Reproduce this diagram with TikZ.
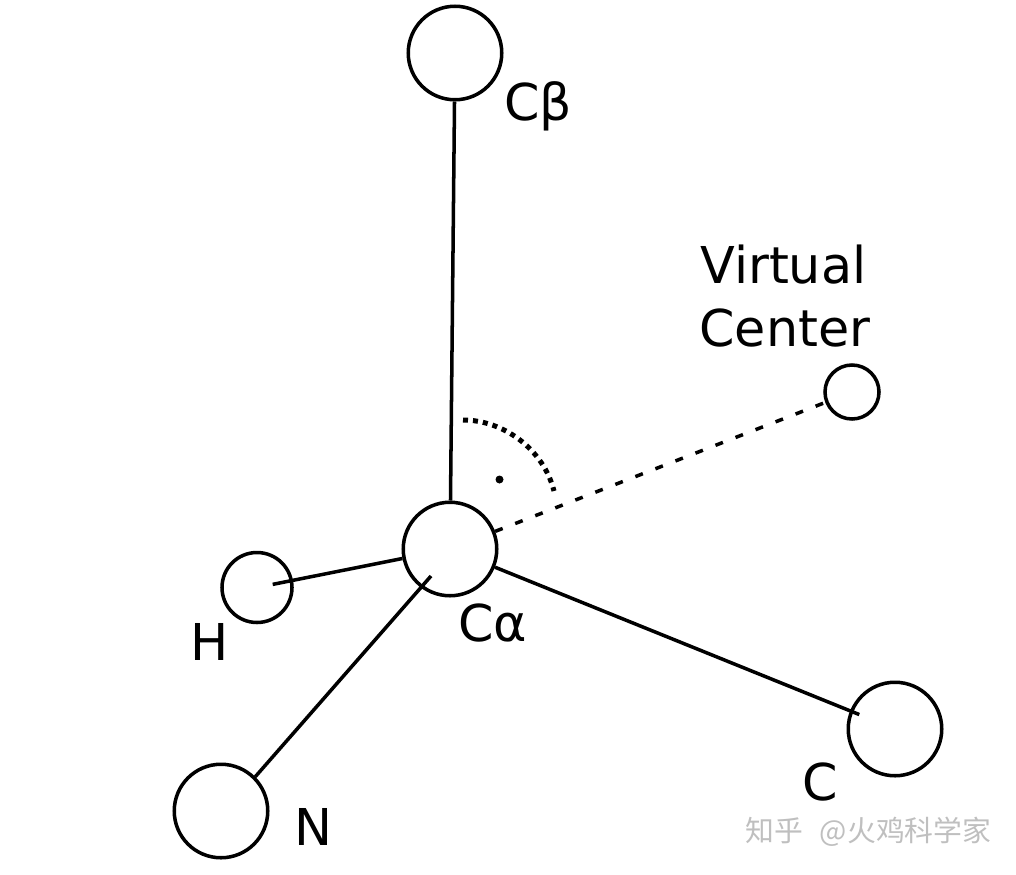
\documentclass[tikz,border=0pt]{standalone}
\usepackage{fontspec}
\setmainfont{DejaVu Sans}
\newfontfamily\cjkwm{Noto Sans CJK SC}
\begin{document}
\begin{tikzpicture}[
    x=0.2mm, y=-0.2mm,
    atom/.style={draw, circle, line width=2pt, inner sep=0pt, minimum size=#1},
    bond/.style={line width=2pt},
    lbl/.style={anchor=base west, inner sep=0pt, font=\fontsize{28.9}{36}\selectfont}
  ]
    \useasboundingbox (0,0) rectangle (1016,874);

    \node[atom=18.7mm]  (cb) at (455,53)  {};
    \node[atom=18.7mm]  (ca) at (450,549) {};
    \node[atom=10.8mm]  (vc) at (852,392) {};
    \node[atom=14mm]    (h)  at (257,587.5) {};
    \node[atom=18.7mm]  (n)  at (221,811) {};
    \node[atom=18.7mm]  (c)  at (895,729) {};
    \coordinate (nend) at (431,576);

    \draw[bond] (cb) -- (ca);
    \draw[bond, shorten >=-2mm] (ca) -- (c);
    \draw[bond, shorten >=3.2mm] (ca) -- (h.center);
    \draw[bond] (n.45) -- (nend);
    \draw[line width=2pt, dash pattern=on 1.6mm off 2.7mm] (ca) -- (vc);

    % right angle mark
    \coordinate (arca) at (463,420);
    \coordinate (arcb) at (554,491);
    \draw[line width=1mm, dash pattern=on 1mm off 1mm] (arca) .. controls (503.6,420) and (543.5,449.3) .. (arcb);
    \node[circle, fill, inner sep=0pt, minimum size=1.6mm] (dot) at (499.5,479.5) {};

    \node[lbl] (cblabel) at (504,120) {Cβ};
    \node[lbl] (calabel) at (458,641) {Cα};
    \node[lbl] (hlabel)  at (190,660) {H};
    \node[lbl] (nlabel)  at (294,845) {N};
    \node[lbl] (clabel)  at (802,800) {C};
    \node[lbl] (vclabel) at (700,283) {Virtual};
    \node[lbl] (vclabelb) at (699,346) {Center};

    \node[anchor=west, inner sep=0pt, text=gray!50, font=\cjkwm\fontsize{16.4}{20}\selectfont] (mark) at (745,832) {知乎\hspace{3.4mm}@火鸡科学家};
  \end{tikzpicture}
\end{document}
